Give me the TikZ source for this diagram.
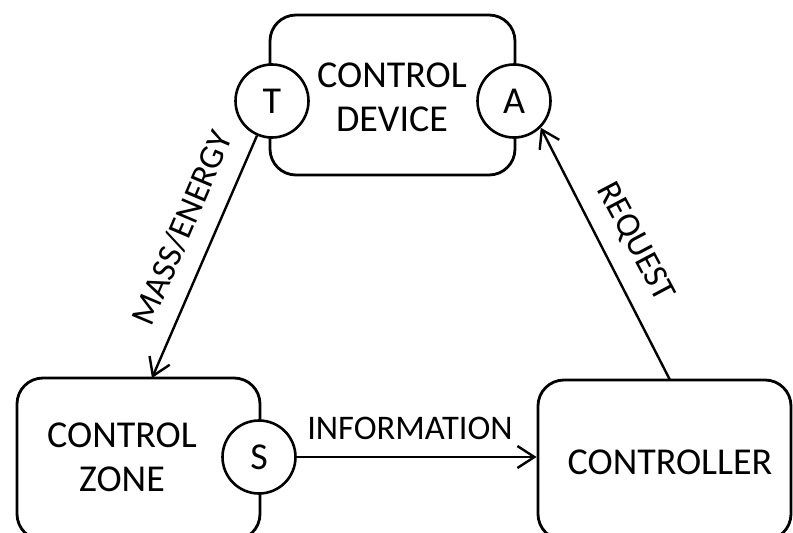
\documentclass[tikz,border=0pt]{standalone}
\usepackage{fontspec}
\setmainfont{Carlito}
\usetikzlibrary{arrows.meta}
\begin{document}
\begin{tikzpicture}[x=1pt,y=-1pt,
  box/.style={draw, line width=2.8pt, rounded corners=26pt, inner sep=0pt},
  port/.style={circle, draw, fill=white, line width=2.6pt, minimum size=73pt, inner sep=0pt, font=\fontsize{38}{44}\selectfont},
  lbl/.style={font=\fontsize{38}{44}\selectfont, align=center, inner sep=0pt},
  flowlbl/.style={font=\fontsize{34.5}{40}\selectfont, inner sep=0pt},
  flow/.style={line width=2.4pt, -{Straight Barb[length=17pt,width=22pt,line width=2.4pt]}}
]
\useasboundingbox (0,0) rectangle (793,533);
\clip (0,0) rectangle (793,533);
% boxes
\node[box, minimum width=245pt, minimum height=160pt] (cd) at (392.5,95) {};
\node[box, minimum width=243pt, minimum height=162pt] (cz) at (138.5,459) {};
\node[box, minimum width=253pt, minimum height=160pt] (ctl) at (664.5,460) {};
% box texts
\node[lbl] (cdtext) at (392,97) {CONTROL\\DEVICE};
\node[lbl] (cztext) at (122,457) {CONTROL\\ZONE};
\node[lbl] (ctltext) at (670,462) {CONTROLLER};
% ports
\node[port] (T) at (272,101) {T};
\node[port] (A) at (514,101) {A};
\node[port] (S) at (259,457) {S};
% connector ends
\coordinate (mzend) at (152,378);
\coordinate (rqstart) at (670,380);
% connectors
\draw[flow] (T) -- (mzend);
\draw[flow] (S) -- (S -| ctl.west);
\draw[flow] (rqstart) -- (A.-45);
% connector labels
\node[flowlbl, rotate=67] (mzlbl) at (182,228) {MASS/ENERGY};
\node[flowlbl, rotate=-62] (rqlbl) at (635,242) {REQUEST};
\node[flowlbl] (inlbl) at (410,428) {INFORMATION};
\end{tikzpicture}
\end{document}
